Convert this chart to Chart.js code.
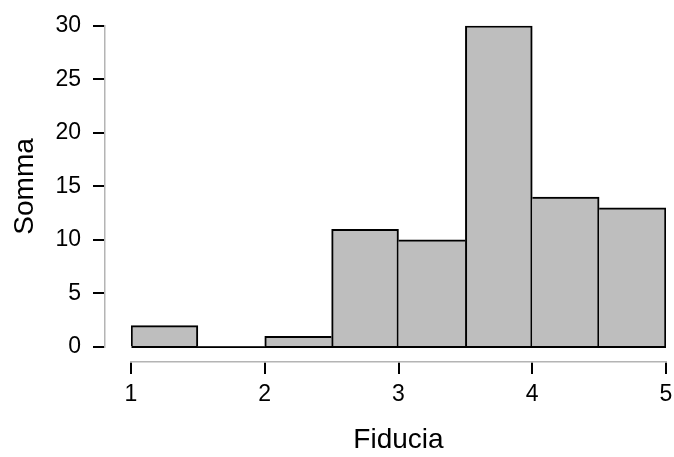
<!DOCTYPE html>
<html>
<head>
<meta charset="utf-8">
<script src="https://cdn.jsdelivr.net/npm/chart.js@4.4.1/dist/chart.umd.min.js"></script>
<style>
  body { margin: 0; background: #fff; }
  canvas { display: block; }
</style>
</head>
<body>
<canvas id="hist" width="674" height="457"></canvas>
<script>
// bins of Fiducia (width 0.5) and their counts
const bins = ["1-1.5", "1.5-2", "2-2.5", "2.5-3", "3-3.5", "3.5-4", "4-4.5", "4.5-5"];
const counts = [2, 0, 1, 11, 10, 30, 14, 13];
const xMin = 1, xMax = 5, xStep = 1;
const yMin = 0, yMax = 30, yStep = 5;
const xTitle = "Fiducia";
const yTitle = "Somma";

const FONT = "'Liberation Sans', Arial, sans-serif";
const LW = 2;

// each shared edge is drawn once, by the taller bar
function edges(i) {
  const v = counts[i];
  const prev = i > 0 ? counts[i - 1] : -1;
  const next = i < counts.length - 1 ? counts[i + 1] : -1;
  return {
    top: LW,
    bottom: 0,
    left: v >= prev ? LW : 0,
    right: v > next ? LW : 0
  };
}

const ctx = document.getElementById("hist");
new Chart(ctx, {
  type: "bar",
  data: {
    labels: bins,
    datasets: [{
      data: counts,
      xAxisID: "xb",
      yAxisID: "y",
      backgroundColor: "#bebebe",
      borderColor: "#000",
      borderWidth: (c) => edges(c.dataIndex),
      borderSkipped: false,
      barPercentage: 1,
      categoryPercentage: 1
    }]
  },
  options: {
    responsive: false,
    devicePixelRatio: 1,
    animation: false,
    layout: { padding: { top: 21, right: 8, left: 0, bottom: 0 } },
    plugins: { legend: { display: false }, tooltip: { enabled: false } },
    scales: {
      xb: {
        type: "category",
        display: false,
        offset: true
      },
      x2: {
        type: "linear",
        position: "bottom",
        weight: 0,
        offset: false,
        min: xMin, max: xMax,
        ticks: { display: false },
        grid: { display: false, offset: false },
        border: { display: false },
        afterFit: (s) => { s.height = 15; }
      },
      x: {
        type: "linear",
        position: "bottom",
        weight: 1,
        offset: false,
        min: xMin, max: xMax,
        ticks: { stepSize: xStep, color: "#000", padding: 7, font: { family: FONT, size: 23 } },
        grid: { offset: false, drawOnChartArea: false, tickLength: 12, color: "#000", lineWidth: 2 },
        border: { display: true, color: "#b4b4b4", width: 1.5 },
        title: { display: true, text: xTitle, color: "#000", padding: { top: 0, bottom: 0 }, font: { family: FONT, size: 28 } },
        afterFit: (s) => { s.height = 95; s.paddingLeft = 0; s.paddingRight = 0; }
      },
      y2: {
        type: "linear",
        position: "left",
        weight: 1,
        min: yMin, max: yMax,
        ticks: { display: false },
        grid: { display: false },
        border: { display: false },
        afterFit: (s) => { s.width = 26; }
      },
      y: {
        type: "linear",
        position: "left",
        weight: 2,
        z: 1,
        min: yMin, max: yMax,
        ticks: { stepSize: yStep, color: "#000", padding: 12, font: { family: FONT, size: 23 } },
        grid: {
          drawOnChartArea: true,
          tickLength: 12,
          lineWidth: 2,
          tickColor: "#000",
          color: (c) => (c.tick && c.tick.value === 0 ? "#000" : "rgba(0,0,0,0)")
        },
        border: { display: true, color: "#b4b4b4", width: 1.5 },
        title: { display: true, text: yTitle, color: "#000", padding: { top: 8, bottom: 0 }, font: { family: FONT, size: 28 } },
        afterFit: (s) => { s.width = 105; }
      }
    }
  }
});
</script>
</body>
</html>
